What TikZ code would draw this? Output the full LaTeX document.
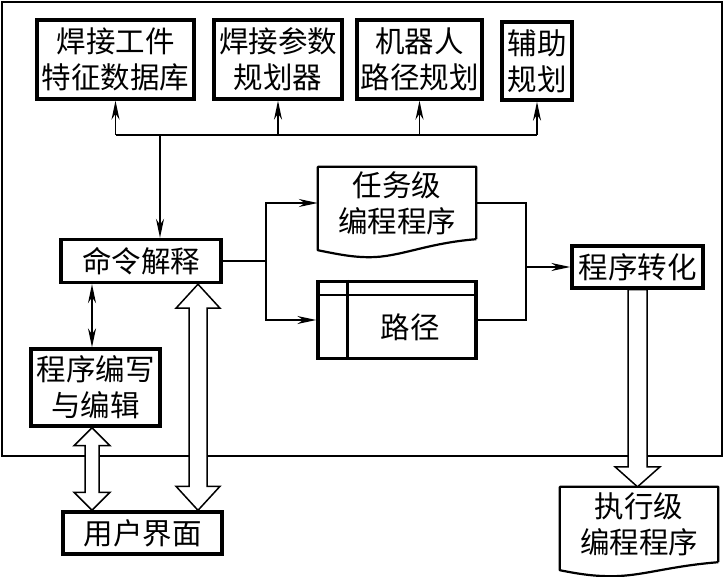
\documentclass[tikz,border=0pt]{standalone}
\usepackage{fontspec}
\newfontfamily\cjk{Noto Sans CJK SC}
\usetikzlibrary{calc,arrows.meta}
% hollow arrows: #1 upper tip, #2 lower tip, #3 head half width, #4 shaft half width, #5 head depth
\newcommand\hollowdbl[5]{\draw[hollow] let \p1=#1, \p2=#2 in (\x1,\y1) -- (\x1+#3pt,\y1-#5pt) -- (\x1+#4pt,\y1-#5pt) -- (\x1+#4pt,\y2+#5pt) -- (\x1+#3pt,\y2+#5pt) -- (\x1,\y2) -- (\x1-#3pt,\y2+#5pt) -- (\x1-#4pt,\y2+#5pt) -- (\x1-#4pt,\y1-#5pt) -- (\x1-#3pt,\y1-#5pt) -- cycle;}
\newcommand\hollowdown[5]{\draw[hollow] let \p1=#1, \p2=#2 in (\x1-#4pt,\y1) -- (\x1+#4pt,\y1) -- (\x1+#4pt,\y2+#5pt) -- (\x1+#3pt,\y2+#5pt) -- (\x1,\y2) -- (\x1-#3pt,\y2+#5pt) -- (\x1-#4pt,\y2+#5pt) -- cycle;}
% document symbol round a node: #1 name, #2 drop at left, #3 depth of the dip
\newcommand\docshape[3]{\draw[docline] (#1.south east) -- (#1.north east) -- (#1.north west) -- ($(#1.south west)+(0,#2)$) .. controls +(20,4) and +(-18,0) .. ($(#1.south west)+(52,#3)$) .. controls +(30,0) and +(-50,4) .. (#1.south east);}

\begin{document}
\begin{tikzpicture}[x=1pt, y=-1pt,
	txt/.style={inner sep=0pt, align=center, font=\cjk\fontsize{29.5}{36}\selectfont},
	box/.style={txt, draw, line width=3.4pt},
	docline/.style={line width=2.2pt, line join=round},
	line/.style={line width=1.5pt},
	arr/.style={line, -{Stealth[length=19pt,width=8pt,inset=6pt]}},
	arrs/.style={line, {Stealth[length=19pt,width=8pt,inset=6pt]}-{Stealth[length=19pt,width=8pt,inset=6pt]}},
	hollow/.style={line width=1.5pt, fill=white, line join=miter}]
	%%%%% START %%%%%
	
	\useasboundingbox (0,0) rectangle (725,577);
	\draw[line width=1.6pt] (2,2) rectangle (722,456);
	
	% planners
	\node[box, minimum width=157, minimum height=79] (base) at (115.5,59.5) {焊接工件\\特征数据库};
	\node[box, minimum width=128, minimum height=79] (weld) at (278,59.5) {焊接参数\\规划器};
	\node[box, minimum width=125, minimum height=79] (robot) at (419.5,59.5) {机器人\\路径规划};
	\node[box, minimum width=70, minimum height=78] (aux) at (537,61) {辅助\\规划};
	
	\node[box, minimum width=160, minimum height=43] (cmd) at (141,261) {命令解释};
	\node[box, minimum width=129, minimum height=77] (edit) at (95.5,387.5) {程序编写\\与编辑};
	\node[box, minimum width=159, minimum height=42] (user) at (142.5,533) {用户界面};
	
	% programs
	\node[txt, minimum width=158, minimum height=72] (task) at (397,203) {任务级\\编程程序};
	\docshape{task}{11}{18}
	\node[box, minimum width=158, minimum height=77] (route) at (397,320) {};
	\draw[line width=2.4pt] ($(route.north west)+(0,15)$) -- ($(route.north east)+(0,15)$);
	\draw[line width=2.4pt] ($(route.north west)+(31,0)$) -- ($(route.south west)+(31,0)$);
	\node[txt] (routetxt) at (410,327) {路径};
	
	\node[box, minimum width=131, minimum height=42] (conv) at (637.5,267) {程序转化};
	\node[txt, minimum width=158, minimum height=75] (exec) at (639,524.5) {执行级\\编程程序};
	\docshape{exec}{8}{14}
	
	% bus to the planners
	\coordinate (bus) at (160,135);
	\draw[line] (base.south |- bus) -- (aux.south |- bus);
	\draw[arr] (base.south |- bus) -- (base.south);
	\draw[arr] (weld.south |- bus) -- (weld.south);
	\draw[arr] (robot.south |- bus) -- (robot.south);
	\draw[arr] (aux.south |- bus) -- (aux.south);
	\draw[arr] (bus) -- (bus |- cmd.north);
	
	\coordinate (fork) at (266,261);
	\draw[line] (cmd.east) -- (fork);
	\draw[arr] (fork) |- (task.west);
	\draw[arr] (fork) |- (route.west);
	
	\coordinate (join) at (526,267);
	\draw[line] (task.east) -| (join);
	\draw[line] (route.east) -| (join);
	\draw[arr] (join) -- (conv.west);
	
	\draw[arrs] ([xshift=-49]cmd.south) -- ([xshift=-49]cmd.south |- edit.north);
	
	\hollowdbl{([xshift=-3.5]edit.south)}{(user.north)}{18}{7}{18}
	\hollowdbl{([xshift=57]cmd.south)}{(user.north)}{22}{9}{24}
	\hollowdown{(conv.south)}{(exec.north)}{22.5}{9.5}{20}
	
	%%%%% END %%%%%
\end{tikzpicture}
\end{document}
